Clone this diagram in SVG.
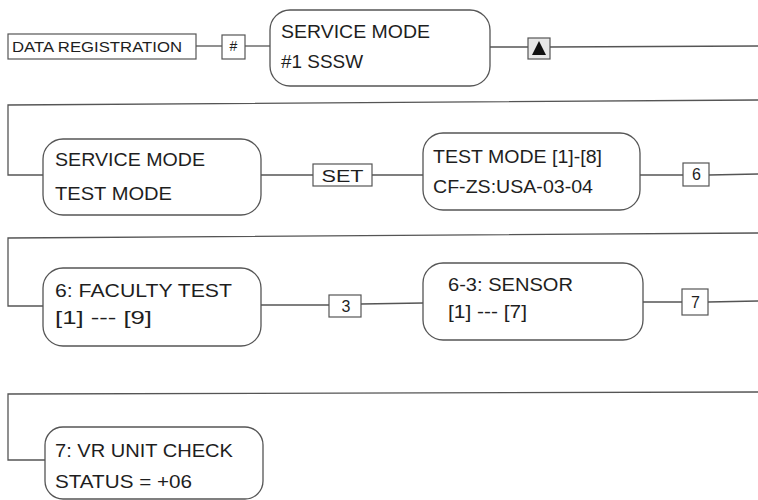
<svg xmlns="http://www.w3.org/2000/svg" width="758" height="500" viewBox="0 0 758 500" xml:space="preserve">
<style>
  .bg{fill:#ffffff}
  .ln{fill:none;stroke:#555555;stroke-width:1.3}
  .rb{fill:#ffffff;stroke:#555555;stroke-width:1.3}
  .kb{fill:#ffffff;stroke:#555555;stroke-width:1.2}
  .t{font-family:"Liberation Sans",Arial,Helvetica,sans-serif;fill:#1e1e1e}
  .big{font-size:18px}
  .sm{font-size:14px}
  .key{font-size:16px}
</style>
<rect class="bg" x="0" y="0" width="758" height="500"/>
<g id="connectors">
  <line class="ln" x1="196" y1="46" x2="222" y2="46"/>
  <line class="ln" x1="245" y1="46" x2="270" y2="46"/>
  <line class="ln" x1="490" y1="47" x2="528" y2="47"/>
  <line class="ln" x1="550" y1="47" x2="758" y2="46"/>
  <polyline class="ln" points="758,100 8,105 8,175 43,175"/>
  <line class="ln" x1="261" y1="175" x2="313" y2="175"/>
  <line class="ln" x1="372" y1="175" x2="423" y2="175"/>
  <line class="ln" x1="640" y1="175" x2="683" y2="175"/>
  <line class="ln" x1="709" y1="175" x2="758" y2="174"/>
  <polyline class="ln" points="758,233 8,238 8,306 43,306"/>
  <line class="ln" x1="261" y1="305" x2="329" y2="305"/>
  <line class="ln" x1="361" y1="304" x2="423" y2="303"/>
  <line class="ln" x1="643" y1="302" x2="682" y2="302"/>
  <line class="ln" x1="708" y1="302" x2="758" y2="301"/>
  <polyline class="ln" points="758,392 8,394 8,460 45,460"/>
</g>
<g id="data-registration">
  <rect class="kb" x="8" y="34" width="188" height="25"/>
  <text class="t sm" x="12" y="52" textLength="170" lengthAdjust="spacingAndGlyphs">DATA REGISTRATION</text>
</g>
<g id="key-hash">
  <rect class="kb" x="222" y="35" width="23" height="24"/>
  <text class="t sm" x="233.5" y="51" text-anchor="middle">#</text>
</g>
<g id="service-mode-sssw">
  <rect class="rb" x="270" y="10" width="220" height="76" rx="20" ry="20"/>
  <text class="t big" x="281" y="38" textLength="149" lengthAdjust="spacingAndGlyphs">SERVICE MODE</text>
  <text class="t big" x="281" y="68" textLength="82" lengthAdjust="spacingAndGlyphs">#1 SSSW</text>
</g>
<g id="key-up">
  <rect x="528" y="38" width="22" height="21" fill="#e8e8e8" stroke="#555555" stroke-width="1.2"/>
  <polygon points="539,41 546,55 532,55" fill="#111111"/>
</g>
<g id="service-mode-test-mode">
  <rect class="rb" x="43" y="139" width="218" height="76" rx="20" ry="20"/>
  <text class="t big" x="55" y="166" textLength="150" lengthAdjust="spacingAndGlyphs">SERVICE MODE</text>
  <text class="t big" x="55" y="200" textLength="117" lengthAdjust="spacingAndGlyphs">TEST MODE</text>
</g>
<g id="key-set">
  <rect class="kb" x="313" y="164" width="59" height="22"/>
  <text class="t key" x="342.5" y="181.5" text-anchor="middle" textLength="42" lengthAdjust="spacingAndGlyphs">SET</text>
</g>
<g id="test-mode-1-8">
  <rect class="rb" x="423" y="133" width="217" height="77" rx="20" ry="20"/>
  <text class="t big" x="433" y="163" textLength="169" lengthAdjust="spacingAndGlyphs">TEST MODE [1]-[8]</text>
  <text class="t big" x="433" y="193" textLength="160" lengthAdjust="spacingAndGlyphs">CF-ZS:USA-03-04</text>
</g>
<g id="key-6">
  <rect class="kb" x="683" y="163" width="26" height="23"/>
  <text class="t key" x="696.5" y="180" text-anchor="middle">6</text>
</g>
<g id="faculty-test">
  <rect class="rb" x="43" y="268" width="218" height="78" rx="20" ry="20"/>
  <text class="t big" x="55" y="297" textLength="177" lengthAdjust="spacingAndGlyphs">6:  FACULTY TEST</text>
  <text class="t big" x="55" y="324" textLength="97" lengthAdjust="spacingAndGlyphs">[1] ---  [9]</text>
</g>
<g id="key-3">
  <rect class="kb" x="329" y="295" width="32" height="22"/>
  <text class="t key" x="346" y="312" text-anchor="middle">3</text>
</g>
<g id="sensor">
  <rect class="rb" x="423" y="263" width="220" height="77" rx="20" ry="20"/>
  <text class="t big" x="448" y="291" textLength="125" lengthAdjust="spacingAndGlyphs">6-3:  SENSOR</text>
  <text class="t big" x="448" y="318" textLength="79" lengthAdjust="spacingAndGlyphs">[1] ---  [7]</text>
</g>
<g id="key-7">
  <rect class="kb" x="682" y="289" width="26" height="26"/>
  <text class="t key" x="695.5" y="308" text-anchor="middle">7</text>
</g>
<g id="vr-unit-check">
  <rect class="rb" x="45" y="427" width="218" height="72" rx="18" ry="18"/>
  <text class="t big" x="55" y="457" textLength="178" lengthAdjust="spacingAndGlyphs">7: VR UNIT CHECK</text>
  <text class="t big" x="55" y="488" textLength="137" lengthAdjust="spacingAndGlyphs">STATUS = +06</text>
</g>
</svg>
